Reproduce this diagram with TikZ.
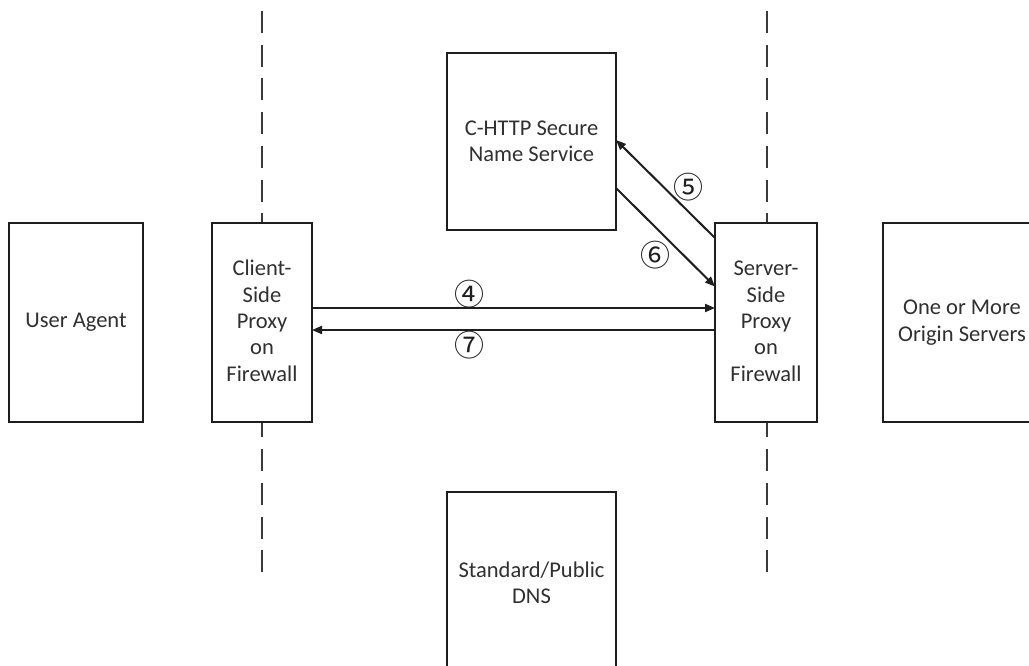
\documentclass[tikz,border=0pt]{standalone}
\usepackage{fontspec}
\setmainfont{Carlito}
\newfontfamily\circfont{Noto Sans CJK SC}
\usetikzlibrary{arrows.meta,calc}
\definecolor{linec}{HTML}{1E1E1E}
\definecolor{textc}{HTML}{303030}
\definecolor{dashc}{HTML}{3A3A3A}
\tikzset{
  boxnode/.style={draw=linec, line width=2pt, fill=white, rectangle, outer sep=0pt,
    inner sep=2pt, align=center, text=textc,
    font=\fontsize{22.5}{26.3}\selectfont},
  divider/.style={draw=dashc, line width=2pt, dash pattern=on 22pt off 11.7pt},
  flow/.style={draw=linec, line width=2pt, -{Triangle[length=10pt,width=8pt]}},
  num/.style={text=linec, inner sep=0pt, font=\circfont\fontsize{30}{30}\selectfont}
}
\begin{document}
\begin{tikzpicture}[x=1pt,y=-1pt]
\useasboundingbox (0,0) rectangle (1029,665);
\clip (0,0) rectangle (1029,665);
\fill[white] (0,0) rectangle (1029,665);
% dashed dividers
\coordinate (lt) at (262,11);
\coordinate (lb) at (262,574);
\coordinate (rt) at (767,11);
\coordinate (rb) at (767,574);
\draw[divider] (lt) -- (lb);
\draw[divider] (rt) -- (rb);
% boxes
\node[boxnode, minimum width=134pt, minimum height=199pt] (ua) at (76,322.5) {User Agent};
\node[boxnode, minimum width=100pt, minimum height=199pt] (client) at (262,322.5) {\\[-14pt]Client-\\Side\\Proxy\\on\\Firewall};
\node[boxnode, minimum width=102pt, minimum height=199pt] (server) at (766,322.5) {\\[-14pt]Server-\\Side\\Proxy\\on\\Firewall};
\node[boxnode, minimum width=158pt, minimum height=199pt] (origin) at (962,322.5) {One or More\\Origin Servers};
\node[boxnode, minimum width=169pt, minimum height=177pt] (chttp) at (531.5,141.5) {C-HTTP Secure\\Name Service};
\node[boxnode, minimum width=169pt, minimum height=182pt] (dns) at (531.5,583) {Standard/Public\\DNS};
% connectors
\draw[flow] ([yshift=14.5pt]client.east) -- ([yshift=14.5pt]server.west);
\draw[flow] ([yshift=-7.5pt]server.west) -- ([yshift=-7.5pt]client.east);
\draw[flow] ([yshift=-15pt]server.north west) -- ([yshift=1.5pt]chttp.east);
\draw[flow] ([yshift=-46.5pt]chttp.east) -- ([yshift=36pt]server.west);
% labels
\node[num] (n4) at (469,294) {④};
\node[num] (n7) at (469,345) {⑦};
\node[num] (n5) at (688,187) {⑤};
\node[num] (n6) at (655,255) {⑥};
\end{tikzpicture}
\end{document}
